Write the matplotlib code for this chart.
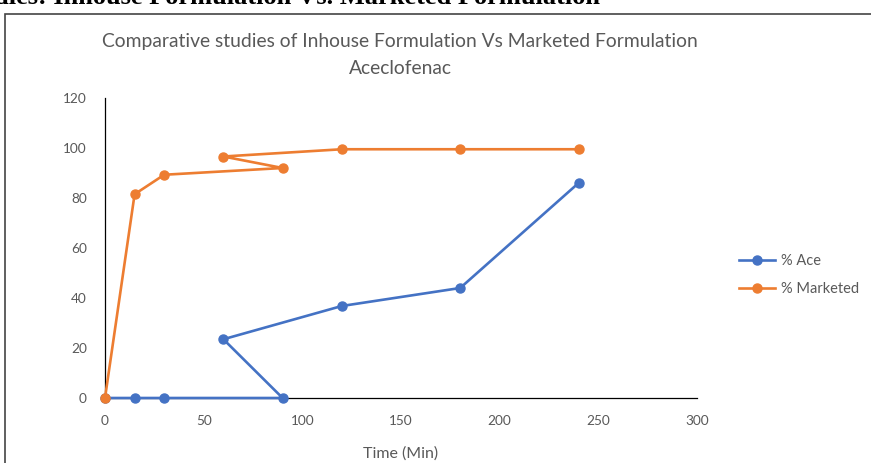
import matplotlib
matplotlib.use("Agg")
import matplotlib.pyplot as plt
from matplotlib.patches import Rectangle
from matplotlib.lines import Line2D

# Dissolution data (time in minutes, % released)
time_min = [0, 15, 30, 90, 60, 120, 180, 240]
pct_ace = [0, 0, 0, 0, 23.5, 36.8, 44, 86]
pct_marketed = [0, 81.5, 89.3, 92, 96.6, 99.5, 99.5, 99.5]

x_ticks = [0, 50, 100, 150, 200, 250, 300]
y_ticks = [0, 20, 40, 60, 80, 100, 120]

title_lines = ["Comparative studies of Inhouse Formulation Vs Marketed Formulation",
               "Aceclofenac"]
series_labels = ["% Ace", "% Marketed"]
header = "dies: Inhouse Formulation Vs. Marketed Formulation"

BLUE = "#4472C4"
ORANGE = "#ED7D31"
GRAY = "#595959"
FONT = ["Lato", "DejaVu Sans"]

W, H = 871, 463
fig = plt.figure(figsize=(W / 100, H / 100), dpi=100)

def fx(px):
    return px / W

def fy(py):
    return 1 - py / H

# page header, running off the top edge of the page image
fig.text(fx(-6), fy(3.5), header, family="Liberation Serif", weight="bold",
         fontsize=19, ha="left", va="baseline", color="black")

# chart frame
fig.patches.append(Rectangle((fx(5), fy(520)), fx(900), fy(14) - fy(520),
                             transform=fig.transFigure, fill=False,
                             edgecolor="#444444", linewidth=1.2))

ax = fig.add_axes([fx(105), fy(398), fx(697) - fx(105), fy(98) - fy(398)])
ax.plot(time_min, pct_ace, color=BLUE, lw=1.9, marker="o", ms=6.5,
        label=series_labels[0], zorder=3, clip_on=False)
ax.plot(time_min, pct_marketed, color=ORANGE, lw=1.9, marker="o", ms=6.5,
        label=series_labels[1], zorder=4, clip_on=False)

ax.set_xlim(0, 300)
ax.set_ylim(0, 120)
ax.set_xticks(x_ticks)
ax.set_yticks(y_ticks)
ax.tick_params(length=0, labelsize=9.8, labelcolor=GRAY)
ax.tick_params(axis="x", pad=12)
ax.tick_params(axis="y", pad=13)
for lab in ax.get_xticklabels() + ax.get_yticklabels():
    lab.set_family(FONT)
for s in ("top", "right"):
    ax.spines[s].set_visible(False)
for s in ("left", "bottom"):
    ax.spines[s].set_color("black")
    ax.spines[s].set_linewidth(0.9)

ax.set_xlabel("Time (Min)", fontsize=11.5, color=GRAY, family=FONT, labelpad=14)

fig.text(fx(400), fy(42), title_lines[0], fontsize=13.9, color=GRAY,
         family=FONT, ha="center", va="center")
fig.text(fx(400), fy(68), title_lines[1], fontsize=13.9, color=GRAY,
         family=FONT, ha="center", va="center")

handles = [Line2D([], [], color=BLUE, lw=1.9, marker="o", ms=6.5),
           Line2D([], [], color=ORANGE, lw=1.9, marker="o", ms=6.5)]
leg = fig.legend(handles, series_labels, loc="upper left",
                 bbox_to_anchor=(fx(739), fy(254)), frameon=False,
                 prop={"family": FONT, "size": 10.5}, labelcolor=GRAY,
                 handlelength=2.5, handletextpad=0.35, labelspacing=0.95,
                 borderaxespad=0, borderpad=0)

fig.savefig("out.png", dpi=100)
